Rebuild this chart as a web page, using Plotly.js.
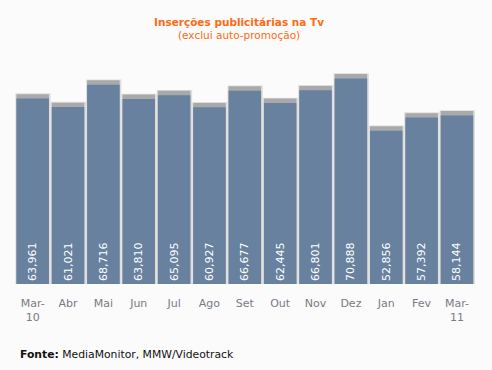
<!DOCTYPE html>
<html>
<head>
<meta charset="utf-8">
<script src="https://cdn.plot.ly/plotly-3.0.1.min.js"></script>
<style>html,body{margin:0;padding:0;background:#fbfbfb;}#chart{width:492px;height:370px;}</style>
</head>
<body>
<div id="chart"></div>
<script>
var categories = ["Mar-10","Abr","Mai","Jun","Jul","Ago","Set","Out","Nov","Dez","Jan","Fev","Mar-11"];
var tickLabels = ["Mar-<br>10","Abr","Mai","Jun","Jul","Ago","Set","Out","Nov","Dez","Jan","Fev","Mar-<br>11"];
var values = [63961,61021,68716,63810,65095,60927,66677,62445,66801,70888,52856,57392,58144];

var capSize = 1500;
var capped = values.map(function(v){ return v + capSize; });

var shadow = {
  type: 'bar', x: categories, y: capped.map(function(v){return v + 300;}),
  width: 1.0, offset: -0.49,
  marker: {color: '#dedede'}, hoverinfo: 'skip', showlegend: false
};
var cap = {
  type: 'bar', x: categories, y: capped,
  width: 0.92, offset: -0.46,
  marker: {color: '#a9a9a9'}, hoverinfo: 'skip', showlegend: false
};
var main = {
  type: 'bar', x: categories, y: values,
  width: 0.92, offset: -0.46,
  marker: {color: '#67819f'},
  texttemplate: '%{y:,}', textposition: 'inside', insidetextanchor: 'start',
  textangle: -90, textfont: {color: '#ffffff', family: 'DejaVu Sans', size: 11},
  showlegend: false
};

var layout = {
  width: 492, height: 370,
  paper_bgcolor: '#fbfbfb', plot_bgcolor: '#fbfbfb',
  margin: {l: 15, r: 17, t: 60, b: 86},
  barmode: 'overlay',
  xaxis: {
    tickmode: 'array', tickvals: categories, ticktext: tickLabels,
    showgrid: false, zeroline: false, showline: false, ticks: '',
    tickfont: {family: 'DejaVu Sans', size: 11, color: '#7a7a82'},
    ticklabelstandoff: 11
  },
  yaxis: {range: [0, 77240], visible: false, showgrid: false, zeroline: false},
  annotations: [
    {text: '<b>Inserções publicitárias na Tv</b>', xref: 'paper', yref: 'paper', x: 0.4863, y: 1.1696,
     xanchor: 'center', yanchor: 'middle', showarrow: false,
     font: {family: 'DejaVu Sans', size: 10.5, color: '#ff6a13'}},
    {text: '(exclui auto-promoção)', xref: 'paper', yref: 'paper', x: 0.4863, y: 1.1116,
     xanchor: 'center', yanchor: 'middle', showarrow: false,
     font: {family: 'DejaVu Sans', size: 10.5, color: '#ff6a13'}},
    {text: '<b>Fonte:</b> MediaMonitor, MMW/Videotrack', xref: 'paper', yref: 'paper', x: 0.0065, y: -0.3125,
     xanchor: 'left', yanchor: 'middle', showarrow: false,
     font: {family: 'DejaVu Sans', size: 10.8, color: '#111111'}}
  ]
};

Plotly.newPlot('chart', [shadow, cap, main], layout, {displayModeBar: false, staticPlot: true});
</script>
</body>
</html>
